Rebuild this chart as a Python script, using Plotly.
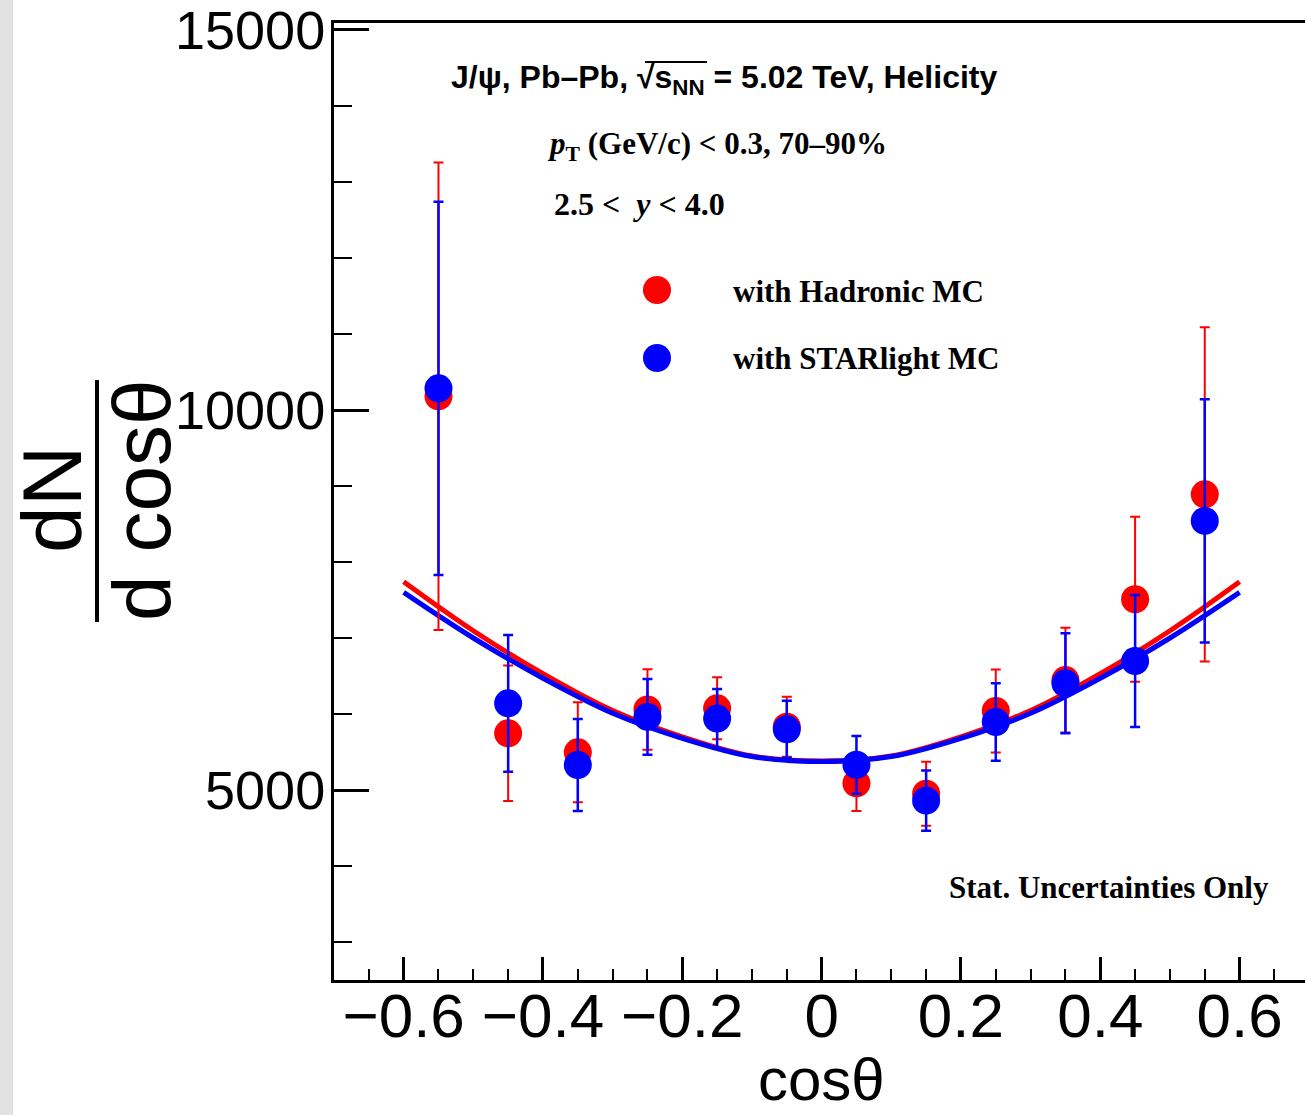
import plotly.graph_objects as go

# ---------------- data ----------------
cos_theta = [-0.55, -0.45, -0.35, -0.25, -0.15, -0.05, 0.05, 0.15, 0.25, 0.35, 0.45, 0.55]
hadronic_y = [10180, 5746, 5496, 6060, 6075, 5833, 5088, 4951, 6040, 6447, 7510, 8890]
hadronic_err = [3075, 891, 658, 530, 408, 395, 364, 421, 545, 689, 1085, 2200]
starlight_y = [10285, 6141, 5329, 5962, 5940, 5798, 5332, 4860, 5895, 6404, 6697, 8541]
starlight_err = [2456, 900, 605, 498, 390, 377, 380, 395, 509, 658, 869, 1599]

fit_x = [-0.6, -0.5, -0.4, -0.3, -0.2, -0.1, 0.0, 0.1, 0.2, 0.3, 0.4, 0.5, 0.6]
hadronic_fit = [7740, 7095, 6530, 6045, 5700, 5447, 5380, 5447, 5700, 6045, 6530, 7095, 7740]
starlight_fit = [7600, 7000, 6470, 6010, 5680, 5440, 5375, 5440, 5680, 6010, 6470, 7000, 7600]

x_tickvals = [-0.6, -0.4, -0.2, 0, 0.2, 0.4, 0.6]
x_ticktext = ["\u22120.6", "\u22120.4", "\u22120.2", "0", "0.2", "0.4", "0.6"]
y_tickvals = [5000, 10000, 15000]
y_ticktext = ["5000", "10000", "15000"]

legend_names = ["with Hadronic MC", "with STARlight MC"]
RED = "#ff0000"
BLUE = "#0000ff"

# ---------------- layout geometry (pixels) ----------------
W, H = 1305, 1115
PL, PR, PT, PB = 334, 1305, 23, 980


def fx(px):
    return (px - PL) / (PR - PL)


def fy(py):
    return (PB - py) / (PB - PT)


SANS = "Liberation Sans, Arial, Helvetica, sans-serif"
SERIF = "Liberation Serif, Times New Roman, serif"

fig = go.Figure()

fig.add_trace(go.Scatter(x=fit_x, y=hadronic_fit, mode="lines", line=dict(color=RED, width=5, shape="spline"),
                         showlegend=False, hoverinfo="skip"))
fig.add_trace(go.Scatter(x=fit_x, y=starlight_fit, mode="lines", line=dict(color=BLUE, width=5, shape="spline"),
                         showlegend=False, hoverinfo="skip"))
fig.add_trace(go.Scatter(x=cos_theta, y=hadronic_y, mode="markers", name=legend_names[0],
                         marker=dict(color=RED, size=28, line=dict(width=0)),
                         error_y=dict(type="data", array=hadronic_err, color=RED, thickness=2, width=5),
                         showlegend=False))
fig.add_trace(go.Scatter(x=cos_theta, y=starlight_y, mode="markers", name=legend_names[1],
                         marker=dict(color=BLUE, size=28, line=dict(width=0)),
                         error_y=dict(type="data", array=starlight_err, color=BLUE, thickness=2.5, width=5),
                         showlegend=False))

shapes = []
# scan-border strip on the left
shapes.append(dict(type="rect", xref="paper", yref="paper", x0=fx(0), x1=fx(13), y0=fy(H), y1=fy(0),
                   fillcolor="#e2e2e2", line=dict(width=0), layer="below"))
# fraction bar of y title
shapes.append(dict(type="line", xref="paper", yref="paper", x0=fx(97), x1=fx(97), y0=fy(622), y1=fy(380),
                   line=dict(color="black", width=4)))
# overline of the square root
shapes.append(dict(type="line", xref="paper", yref="paper", x0=fx(645), x1=fx(707), y0=fy(62), y1=fy(62),
                   line=dict(color="black", width=2)))
# legend symbols
for cy, col in [(290, RED), (358, BLUE)]:
    shapes.append(dict(type="circle", xref="paper", yref="paper", xsizemode="pixel", ysizemode="pixel",
                       xanchor=fx(657), yanchor=fy(cy), x0=-14, x1=14, y0=-14, y1=14,
                       fillcolor=col, line=dict(width=0)))

annotations = []


def ann(text, px, py, size, family, xanchor="left", textangle=0, yanchor="middle"):
    annotations.append(dict(text=text, x=fx(px), y=fy(py), xref="paper", yref="paper", showarrow=False,
                            xanchor=xanchor, yanchor=yanchor, textangle=textangle,
                            font=dict(size=size, family=family, color="black")))


ann("<b>J/\u03c8, Pb\u2013Pb, \u221as<sub>NN</sub> = 5.02 TeV, Helicity</b>", 449, 80, 32, SANS)
ann("<b><i>p</i><sub>T</sub> (GeV/c) < 0.3, 70\u201390%</b>", 545, 146, 31, SERIF)
ann("<b>2.5 <  <i>y</i> < 4.0</b>", 552, 204, 32, SERIF)
ann("<b>" + legend_names[0] + "</b>", 731, 292, 31, SERIF)
ann("<b>" + legend_names[1] + "</b>", 731, 359, 31, SERIF)
ann("<b>Stat. Uncertainties Only</b>", 947, 887, 31, SERIF)
# axis titles
ann("cos\u03b8", 821, 1079, 60, SANS, xanchor="center")
ann("dN", 52, 500, 84, SANS, xanchor="center", textangle=-90)
ann("d cos\u03b8", 141, 500, 82, SANS, xanchor="center", textangle=-90)

fig.update_layout(
    width=W, height=H,
    margin=dict(l=PL, r=W - PR, t=PT, b=H - PB, pad=0),
    paper_bgcolor="white", plot_bgcolor="white",
    showlegend=False,
    shapes=shapes, annotations=annotations,
    xaxis=dict(range=[-0.7, 0.6939], showgrid=False, zeroline=False,
               showline=True, linecolor="black", linewidth=3, mirror=True,
               ticks="inside", ticklen=23, tickwidth=3, tickcolor="black",
               tickvals=x_tickvals, ticktext=x_ticktext,
               tickfont=dict(size=62, family=SANS, color="black"),
               ticklabelstandoff=-20, ticklabeloverflow="allow",
               minor=dict(ticks="inside", ticklen=11, tickwidth=2, tickcolor="black", dtick=0.05, tick0=0,
                          showgrid=False)),
    yaxis=dict(range=[2500, 15092], showgrid=False, zeroline=False,
               showline=True, linecolor="black", linewidth=3, mirror=False,
               ticks="inside", ticklen=35, tickwidth=3, tickcolor="black",
               tickvals=y_tickvals, ticktext=y_ticktext,
               tickfont=dict(size=54, family=SANS, color="black"),
               ticklabelstandoff=-5, ticklabeloverflow="allow",
               minor=dict(ticks="inside", ticklen=18, tickwidth=2, tickcolor="black", dtick=1000, tick0=0,
                          showgrid=False)),
)

fig.write_html("out.html")
